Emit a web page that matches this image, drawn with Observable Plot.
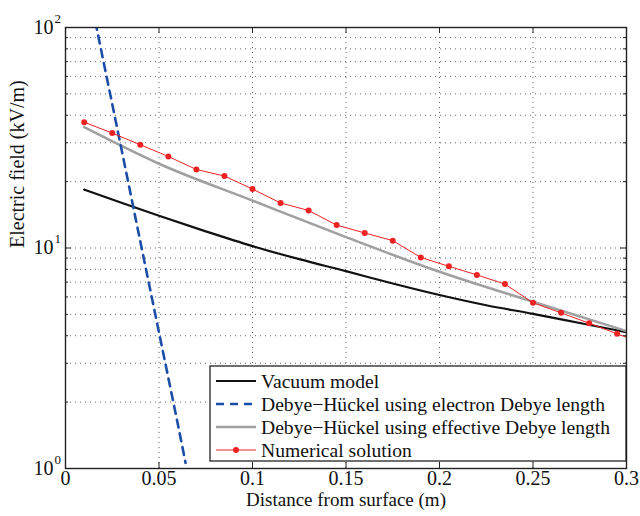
<!DOCTYPE html>
<html>
<head>
<meta charset="utf-8">
<script src="https://cdn.jsdelivr.net/npm/d3@7"></script>
<script src="https://cdn.jsdelivr.net/npm/@observablehq/plot@0.6"></script>
<style>
  html, body { margin: 0; padding: 0; background: #fff; }
  #chart svg { display: block; }
</style>
</head>
<body>
<div id="chart"></div>
<script>
// ---- Data ----
const vacuumX = [0.01, 0.025, 0.05, 0.075, 0.1, 0.125, 0.15, 0.175, 0.2, 0.225, 0.25, 0.275, 0.3];
const vacuumY = [18.4, 16.6, 14.0, 11.9, 10.2, 8.9, 7.85, 6.9, 6.12, 5.5, 5.03, 4.57, 4.15];

const electronX = [0.01, 0.02, 0.03, 0.04, 0.05, 0.06, 0.0642];
const electronY = [188, 72.2, 27.9, 10.7, 4.14, 1.60, 1.06];

const effectiveX = [0.01, 0.05, 0.1, 0.15, 0.2, 0.25, 0.3];
const effectiveY = [35.3, 24.1, 16.4, 11.2, 7.8, 5.7, 4.2];

const numericalX = [0.01, 0.025, 0.04, 0.055, 0.07, 0.085, 0.1, 0.115, 0.13, 0.145, 0.16, 0.175, 0.19, 0.205, 0.22, 0.235, 0.25, 0.265, 0.28, 0.295, 0.31];
const numericalY = [37.2, 33.2, 29.4, 26.0, 22.7, 21.2, 18.5, 16.0, 14.8, 12.7, 11.7, 10.8, 9.06, 8.26, 7.55, 6.86, 5.64, 5.08, 4.56, 4.08, 3.66];

const xTicks = [0, 0.05, 0.1, 0.15, 0.2, 0.25, 0.3];
const yMajor = [1, 10, 100];
const yMinor = [2, 3, 4, 5, 6, 7, 8, 9, 20, 30, 40, 50, 60, 70, 80, 90];

const legendLabels = [
  "Vacuum model",
  "Debye\u2212H\u00fcckel using electron Debye length",
  "Debye\u2212H\u00fcckel using effective Debye length",
  "Numerical solution"
];
const xLabel = "Distance from surface (m)";
const yLabel = "Electric field (kV/m)";

// ---- Build tables ----
const zip = (xs, ys) => xs.map((x, i) => ({x, y: ys[i]}));
const vacuum = zip(vacuumX, vacuumY);
const electron = zip(electronX, electronY);
const effective = zip(effectiveX, effectiveY);
const numerical = zip(numericalX, numericalY);

const W = 640, H = 516;
const mL = 65, mR = 14, mT = 27, mB = 48;
const plotW = W - mL - mR, plotH = H - mT - mB;
const font = "'Liberation Serif', 'Times New Roman', serif";
const fs = 20;
const gridStyle = {stroke: "#555", strokeOpacity: 0.9, strokeWidth: 1, strokeDasharray: "1,4"};
const axisColor = "#222";

const chart = Plot.plot({
  width: W, height: H,
  marginLeft: mL, marginRight: mR, marginTop: mT, marginBottom: mB,
  style: {fontFamily: font, fontSize: fs + "px", background: "#fff", color: "#111"},
  x: {domain: [0, 0.3]},
  y: {type: "log", domain: [1, 100]},
  marks: [
    Plot.gridX(xTicks.slice(1, -1), gridStyle),
    Plot.gridY([...yMinor, 10], gridStyle),
    Plot.line(vacuum, {x: "x", y: "y", stroke: "#111", strokeWidth: 2.2, curve: "monotone-x", clip: true}),
    Plot.line(effective, {x: "x", y: "y", stroke: "#a0a0a0", strokeWidth: 2.6, curve: "monotone-x", clip: true}),
    Plot.line(electron, {x: "x", y: "y", stroke: "#1c4ea8", strokeWidth: 2.6, strokeDasharray: "8,6", clip: true}),
    Plot.line(numerical, {x: "x", y: "y", stroke: "#ee2222", strokeWidth: 1, clip: true}),
    Plot.dot(numerical, {x: "x", y: "y", r: 3, fill: "#ee2222", clip: true}),
    // inward ticks (MATLAB style)
    Plot.ruleX(xTicks, {x: d => d, stroke: axisColor, insetTop: plotH - 6}),
    Plot.ruleX(xTicks, {x: d => d, stroke: axisColor, insetBottom: plotH - 6}),
    Plot.ruleY(yMajor, {y: d => d, stroke: axisColor, insetRight: plotW - 6}),
    Plot.ruleY(yMajor, {y: d => d, stroke: axisColor, insetLeft: plotW - 6}),
    Plot.ruleY(yMinor, {y: d => d, stroke: axisColor, insetRight: plotW - 3}),
    Plot.ruleY(yMinor, {y: d => d, stroke: axisColor, insetLeft: plotW - 3}),
    Plot.frame({stroke: axisColor, strokeWidth: 1.4}),
    Plot.axisX(xTicks, {tickSize: 0, tickPadding: 2, fontSize: fs, tickFormat: d => String(d), label: null}),
    Plot.axisY(yMajor, {tickSize: 0, tickPadding: 12, fontSize: fs, tickFormat: () => "10", label: null}),
    Plot.axisY(yMajor, {tickSize: 0, tickPadding: 11, fontSize: 13, textAnchor: "start", dy: -9,
      tickFormat: d => String(Math.round(Math.log10(d))), label: null}),
    Plot.text([xLabel], {frameAnchor: "bottom", dy: 37.5, fontSize: 19}),
    Plot.text([yLabel], {frameAnchor: "left", dx: -48, rotate: -90, fontSize: fs})
  ]
});

document.getElementById("chart").appendChild(chart);

// ---- Legend (inside the axes, lower right) ----
const svg = d3.select(chart);
const lfs = 19.6;
const lg = svg.append("g").attr("font-family", font).attr("font-size", lfs)
  .attr("fill", "#111").attr("text-anchor", "start");
const box = {x0: 210, y0: 366, x1: 626, y1: 461};
lg.append("rect").attr("x", box.x0).attr("y", box.y0)
  .attr("width", box.x1 - box.x0).attr("height", box.y1 - box.y0)
  .attr("fill", "#fff").attr("stroke", "#111").attr("stroke-width", 1.2);
const styles = [
  {stroke: "#111", width: 2.2, dash: null, dot: false},
  {stroke: "#1c4ea8", width: 2.6, dash: "8,6", dot: false},
  {stroke: "#a0a0a0", width: 2.6, dash: null, dot: false},
  {stroke: "#ee2222", width: 1, dash: null, dot: true}
];
legendLabels.forEach((label, i) => {
  const cy = 381 + i * 23;
  const s = styles[i];
  const ln = lg.append("line").attr("x1", 216).attr("x2", 256).attr("y1", cy).attr("y2", cy)
    .attr("stroke", s.stroke).attr("stroke-width", s.width);
  if (s.dash) ln.attr("stroke-dasharray", s.dash);
  if (s.dot) lg.append("circle").attr("cx", 236).attr("cy", cy).attr("r", 3).attr("fill", s.stroke);
  lg.append("text").attr("x", 261).attr("y", cy).attr("dy", "0.35em")
    .attr("text-anchor", "start").text(label);
});
</script>
</body>
</html>
